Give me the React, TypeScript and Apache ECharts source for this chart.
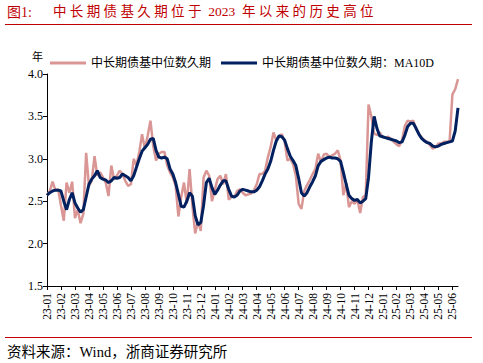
import React, { useEffect, useRef } from 'react';
import * as echarts from 'echarts';

const monthLabels = [
  '23-01', '23-02', '23-03', '23-04', '23-05', '23-06', '23-07', '23-08', '23-09', '23-10', '23-11', '23-12',
  '24-01', '24-02', '24-03', '24-04', '24-05', '24-06', '24-07', '24-08', '24-09', '24-10', '24-11', '24-12',
  '25-01', '25-02', '25-03', '25-04', '25-05', '25-06',
];

// values are sampled 5 times per month
const pointsPerMonth = 5;

const durationRaw = [
  2.57, 2.62, 2.73, 2.63, 2.64, 2.45, 2.27, 2.72, 2.60, 2.73,
  2.30, 2.40, 2.24, 2.35, 3.07, 2.68, 2.74, 3.03, 2.80, 2.84,
  2.78, 2.72, 2.56, 2.92, 2.76, 2.80, 2.86, 2.82, 2.74, 2.68,
  2.70, 3.00, 2.92, 3.08, 3.29, 3.12, 3.27, 3.45, 3.15, 2.98,
  3.06, 3.08, 3.08, 2.92, 2.84, 2.78, 2.68, 2.32, 2.55, 2.72,
  2.47, 2.88, 2.45, 2.12, 2.26, 2.15, 2.78, 2.86, 2.80, 2.50,
  2.63, 2.76, 2.80, 2.70, 2.82, 2.52, 2.55, 2.55, 2.62, 2.64,
  2.60, 2.57, 2.58, 2.59, 2.63, 2.70, 2.82, 2.82, 2.86, 3.02,
  3.14, 3.31, 3.22, 3.27, 3.29, 3.20, 2.98, 3.00, 2.94, 2.80,
  2.47, 2.41, 2.62, 2.69, 2.75, 2.82, 2.88, 3.06, 2.96, 3.05,
  3.06, 3.02, 3.04, 3.06, 3.10, 2.98, 2.57, 2.71, 2.43, 2.50,
  2.47, 2.52, 2.36, 2.55, 2.57, 3.64, 3.50, 3.30, 3.28, 3.31,
  3.26, 3.25, 3.26, 3.23, 3.20, 3.17, 3.15, 3.22, 3.39, 3.45,
  3.44, 3.45, 3.35, 3.30, 3.25, 3.22, 3.20, 3.16, 3.12, 3.14,
  3.18, 3.18, 3.20, 3.20, 3.21, 3.76, 3.82, 3.94,
];

const durationMA10 = [
  2.57, 2.60, 2.62, 2.63, 2.63, 2.62, 2.50, 2.40, 2.52, 2.60,
  2.48, 2.42, 2.37, 2.40, 2.55, 2.70, 2.76, 2.80, 2.86, 2.78,
  2.76, 2.75, 2.72, 2.74, 2.78, 2.77, 2.78, 2.82, 2.80, 2.78,
  2.74, 2.80, 2.90, 3.00, 3.09, 3.13, 3.17, 3.23, 3.24, 3.10,
  3.02, 3.01, 3.02, 3.00, 2.88, 2.82, 2.72, 2.58, 2.44, 2.43,
  2.50, 2.60, 2.56, 2.33, 2.22, 2.25, 2.45, 2.72, 2.77, 2.66,
  2.58, 2.63, 2.69, 2.74, 2.74, 2.64, 2.56, 2.55, 2.57, 2.62,
  2.64, 2.63, 2.62, 2.61, 2.61, 2.63, 2.67, 2.74, 2.82, 2.88,
  2.97, 3.10, 3.21, 3.27, 3.26, 3.22, 3.12, 3.03, 2.98, 2.92,
  2.77, 2.60, 2.56, 2.60, 2.67, 2.73, 2.80, 2.92, 2.97, 2.99,
  3.01, 3.02, 3.01, 3.01, 3.00, 2.97, 2.84, 2.70, 2.57, 2.53,
  2.51, 2.52, 2.48, 2.50, 2.53, 2.78, 3.20, 3.50, 3.36, 3.27,
  3.26, 3.25, 3.24, 3.23, 3.22, 3.21, 3.19, 3.20, 3.28, 3.38,
  3.42, 3.42, 3.36, 3.29, 3.24, 3.21, 3.19, 3.18, 3.15, 3.14,
  3.15, 3.17, 3.18, 3.19, 3.20, 3.21, 3.33, 3.60,
];

const seriesNames = ['中长期债基中位数久期', '中长期债基中位数久期：MA10D'];
const titleLabel = '图1:';
const titleText = '中 长 期 债 基 久 期 位 于  2023  年 以 来 的 历 史 高 位';
const sourceText = '资料来源：Wind，浙商证券研究所';

const RED = '#C00000';
const PINK = '#D99694';
const NAVY = '#002060';
const FONT = "'Liberation Serif', 'Noto Sans CJK SC', serif";

const categories = durationRaw.map((_, i) => {
  const m = Math.floor(i / pointsPerMonth);
  return `${monthLabels[m]}#${i % pointsPerMonth}`;
});

const showMonth = (index: number) => index % pointsPerMonth === 0;

export default function App() {
  const ref = useRef<HTMLDivElement>(null);
  useEffect(() => {
    if (!ref.current) return;
    const chart = echarts.init(ref.current, undefined, { renderer: 'svg' });
    chart.setOption({
      animation: false,
      backgroundColor: '#fff',
      textStyle: { fontFamily: FONT },
      graphic: [
        { type: 'text', left: 7, top: 5, style: { text: titleLabel, fill: RED, font: `14px ${FONT}` } },
        { type: 'text', left: 53, top: 5, style: { text: titleText, fill: RED, font: `13.5px ${FONT}` } },
        { type: 'line', shape: { x1: 5, y1: 24.5, x2: 472, y2: 24.5 }, style: { stroke: RED, lineWidth: 1.2 } },
        { type: 'line', shape: { x1: 5, y1: 337.5, x2: 472, y2: 337.5 }, style: { stroke: RED, lineWidth: 1.2 } },
        { type: 'text', left: 7, top: 345, style: { text: sourceText, fill: '#000', font: `14.5px ${FONT}` } },
      ],
      legend: {
        left: 45,
        top: 52,
        icon: 'rect',
        itemWidth: 36,
        itemHeight: 3,
        itemGap: 10,
        textStyle: { fontSize: 12, color: '#000', fontFamily: FONT },
        data: seriesNames,
      },
      grid: { left: 47, right: 25, top: 74, bottom: 77, containLabel: false },
      xAxis: {
        type: 'category',
        boundaryGap: false,
        data: categories,
        axisLine: { lineStyle: { color: '#000', width: 1 } },
        axisTick: { interval: showMonth, length: 4, lineStyle: { color: '#000' } },
        axisLabel: {
          interval: showMonth,
          rotate: 90,
          margin: 7,
          fontSize: 11.5,
          color: '#000',
          fontFamily: FONT,
          formatter: (v: string) => v.split('#')[0],
        },
        splitLine: { show: false },
      },
      yAxis: {
        type: 'value',
        min: 1.5,
        max: 4.0,
        interval: 0.5,
        name: '年',
        nameLocation: 'end',
        nameGap: 12,
        nameTextStyle: { align: 'right', fontSize: 11, color: '#000', padding: [0, 4, 0, 0], fontFamily: FONT },
        axisLine: { show: true, lineStyle: { color: '#000', width: 1 } },
        axisTick: { show: true, length: 4, lineStyle: { color: '#000' } },
        axisLabel: { margin: 4, fontSize: 12, color: '#000', fontFamily: FONT, formatter: (v: number) => v.toFixed(1) },
        splitLine: { show: false },
      },
      series: [
        {
          name: seriesNames[0],
          type: 'line',
          data: durationRaw,
          symbol: 'none',
          lineStyle: { color: PINK, width: 2.5 },
          itemStyle: { color: PINK },
        },
        {
          name: seriesNames[1],
          type: 'line',
          data: durationMA10,
          symbol: 'none',
          lineStyle: { color: NAVY, width: 3 },
          itemStyle: { color: NAVY },
        },
      ],
    });
    return () => chart.dispose();
  }, []);
  return <div ref={ref} style={{ position: 'fixed', left: 0, top: 0, width: 483, height: 363 }} />;
}
